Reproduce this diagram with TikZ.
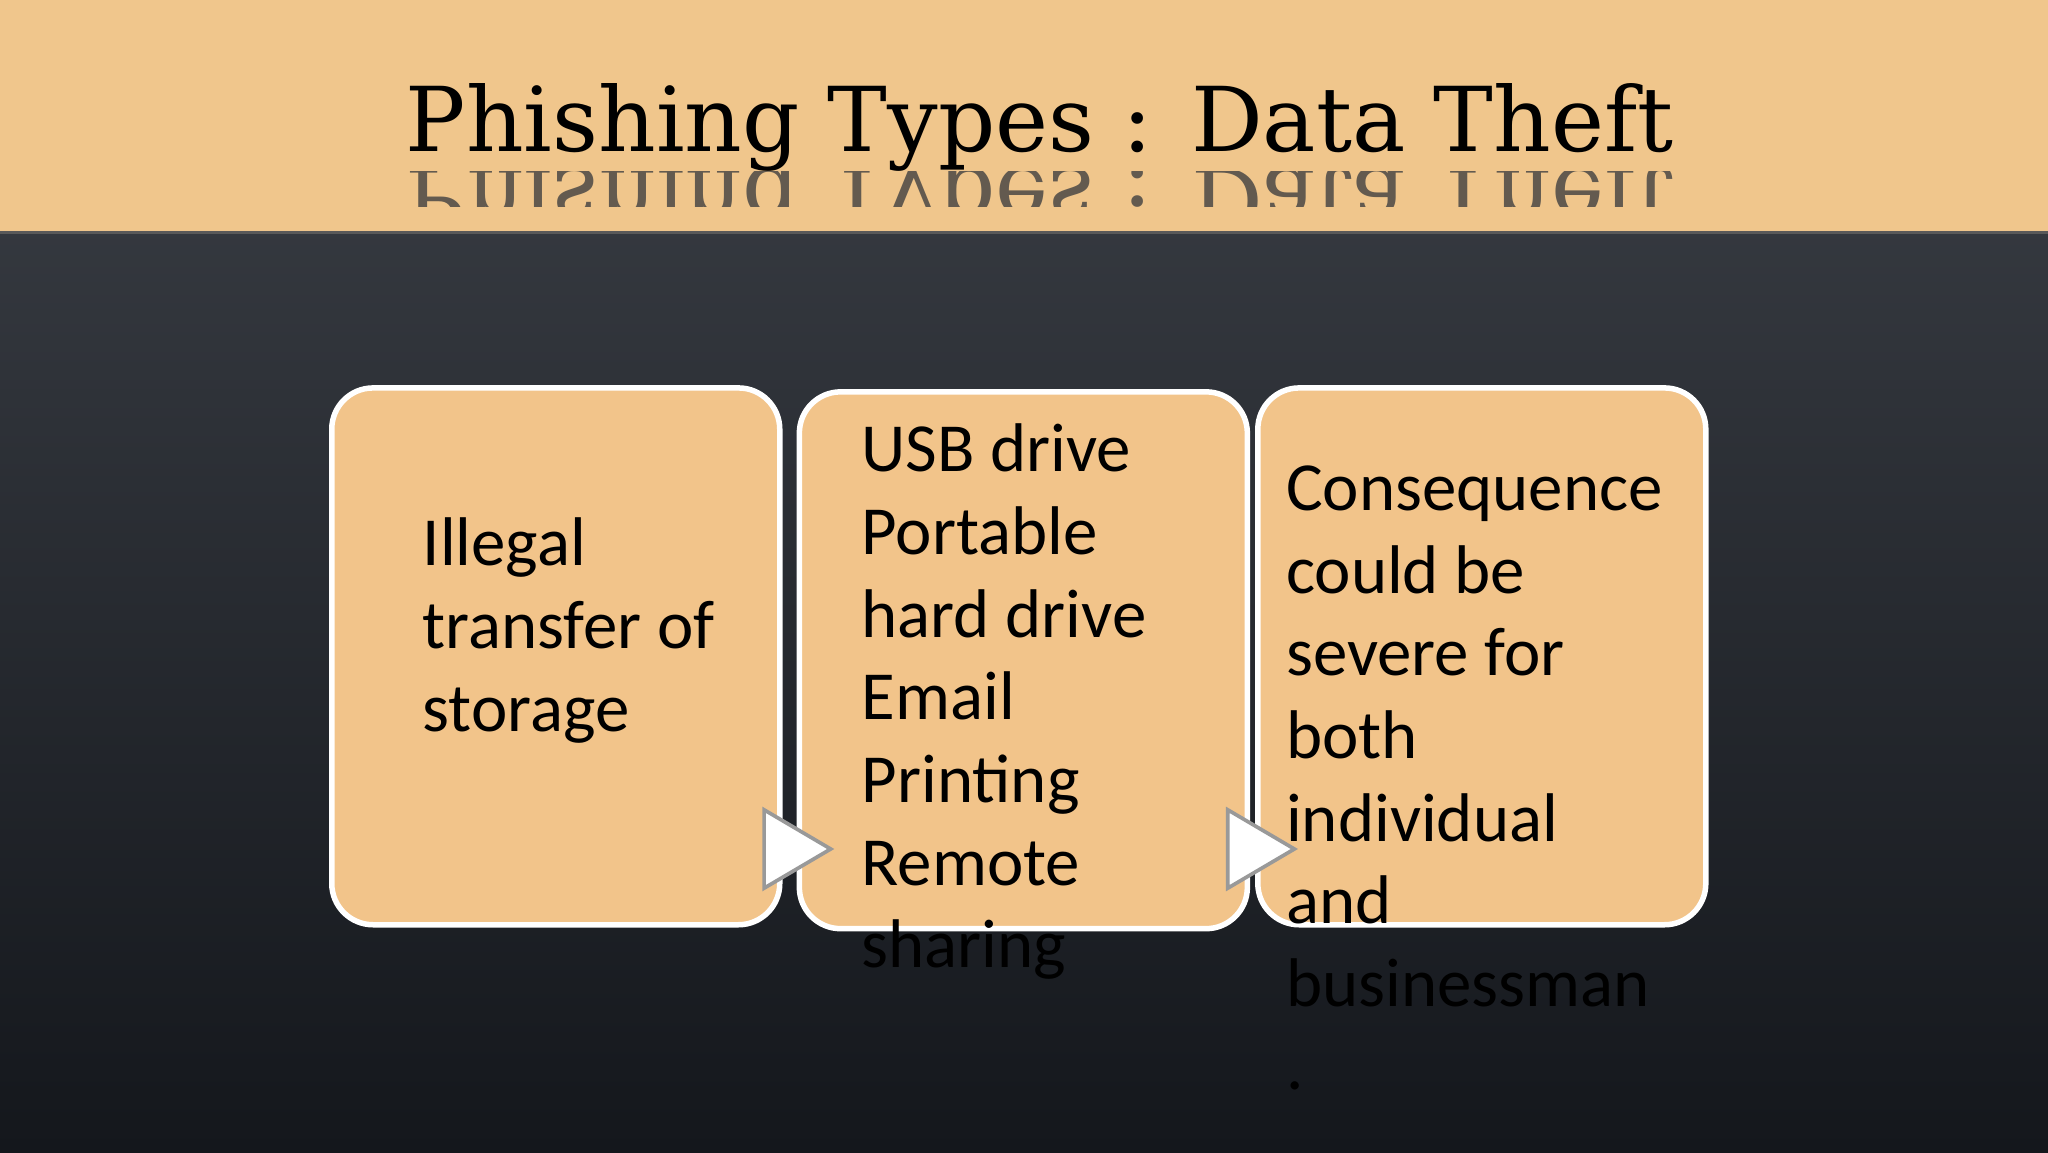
\documentclass[tikz,border=0pt]{standalone}
\usepackage{fontspec}
\setmainfont{Carlito}
\newfontfamily\titlefont{DejaVu Serif}
\definecolor{band}{HTML}{F0C68C}
\definecolor{boxfill}{HTML}{F2C48A}
\definecolor{bgtop}{HTML}{3C4047}
\definecolor{bgbot}{HTML}{14171C}
\tikzset{
  card/.style={draw=white, line width=1.2pt, fill=boxfill, rounded corners=9pt},
  tri/.style={draw=gray!80, line width=0.8pt, fill=white},
  body/.style={anchor=north west, align=left, font=\fontsize{15pt}{18pt}\selectfont, text=black, inner sep=0pt},
  ttl/.style={font=\titlefont\fontsize{19.5pt}{22pt}\selectfont, inner sep=0pt}
}
\begin{document}
\begin{tikzpicture}[x=1cm,y=1cm]
\useasboundingbox (0,0) rectangle (15.68,8.82);
\shade[top color=bgtop, bottom color=bgbot] (0,0) rectangle (15.68,8.82);
\fill[band] (0,7.04) rectangle (15.68,8.82);
\draw[gray!70!black, line width=0.8pt] (0,7.04) -- (15.68,7.04);
\node[ttl, text=black, anchor=base] (title) at (7.96,7.66) {Phishing Types : Data Theft};
\begin{scope}
\clip (0,7.24) rectangle (15.68,7.51);
\node[ttl, text=black!75, opacity=0.8, yscale=-1, anchor=base] (refl) at (7.96,7.53) {Phishing Types : Data Theft};
\end{scope}
\draw[card] (2.54,1.74) rectangle (5.97,5.85);
\draw[card] (6.12,1.71) rectangle (9.55,5.82);
\draw[card] (9.63,1.74) rectangle (13.06,5.85);
\node[body] (t1) at (3.23,4.86) {Illegal\\transfer of\\storage};
\node[body] (t2) at (6.59,5.58) {USB drive\\Portable\\hard drive\\Email\\Printing\\Remote\\sharing};
\node[body] (t3) at (9.84,5.26) {Consequence\\could be\\severe for\\both\\individual\\and\\businessman\\.};
\draw[tri] (5.85,2.62) -- (6.36,2.32) -- (5.85,2.02) -- cycle;
\draw[tri] (9.40,2.62) -- (9.91,2.32) -- (9.40,2.02) -- cycle;
\end{tikzpicture}
\end{document}
